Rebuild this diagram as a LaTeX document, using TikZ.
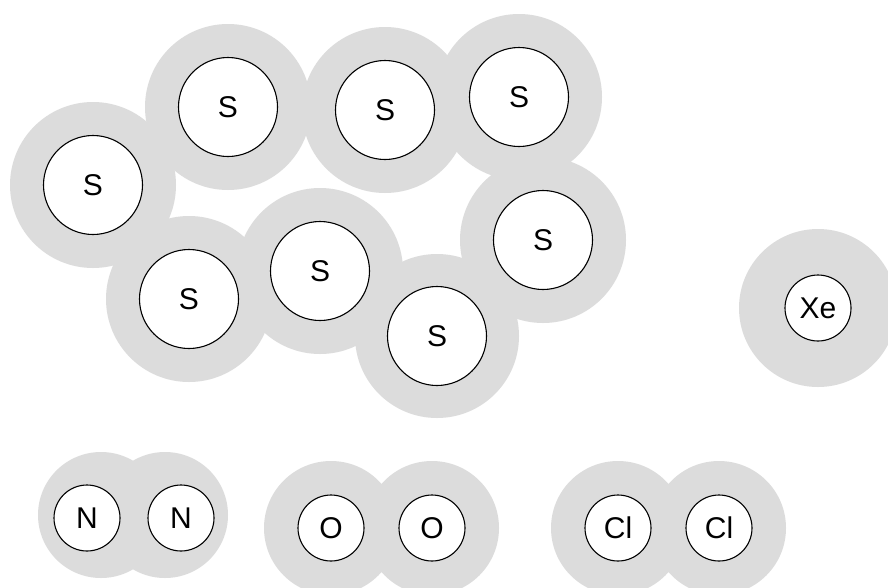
\documentclass[tikz,border=0pt]{standalone}
\usepackage{fontspec}
\setmainfont{Liberation Sans}
\usepackage{xcolor}
\definecolor{shellgray}{RGB}{220,220,220}

\begin{document}
\begin{tikzpicture}[x=1pt, y=-1pt, font=\fontsize{30}{34}\selectfont,
    shell/.style={fill=shellgray},
    atom/.style={circle, draw=black, line width=1.1pt, fill=white, inner sep=0pt},
    bigatom/.style={atom, minimum size=99pt},
    smallatom/.style={atom, minimum size=66pt}]
  % frame of the picture
  \clip (0,0) rectangle (888,587);
  \fill[white] (0,0) rectangle (888,587);
  % S8 ring, shells first
  \fill[shell] (93,185) circle[radius=83pt];
  \fill[shell] (228,107) circle[radius=83pt];
  \fill[shell] (385,110) circle[radius=83pt];
  \fill[shell] (519,97) circle[radius=83pt];
  \fill[shell] (543,240) circle[radius=83pt];
  \fill[shell] (320,271) circle[radius=83pt];
  \fill[shell] (189,299) circle[radius=83pt];
  \fill[shell] (437,336) circle[radius=82pt];
  % Xe and the diatomics
  \fill[shell] (818,308) circle[radius=79pt];
  \fill[shell] (101,515) circle[radius=63pt];
  \fill[shell] (165,515) circle[radius=63pt];
  \fill[shell] (331,528) circle[radius=67pt];
  \fill[shell] (432,528) circle[radius=67pt];
  \fill[shell] (618,528) circle[radius=67pt];
  \fill[shell] (719,528) circle[radius=67pt];
  % atom cores
  \node[bigatom] (s1) at (93,185) {S};
  \node[bigatom] (s2) at (228,107) {S};
  \node[bigatom] (s3) at (385,110) {S};
  \node[bigatom] (s4) at (519,97) {S};
  \node[bigatom] (s5) at (543,240) {S};
  \node[bigatom] (s6) at (320,271) {S};
  \node[bigatom] (s7) at (189,299) {S};
  \node[bigatom] (s8) at (437,336) {S};
  \node[smallatom] (xe) at (818,308) {Xe};
  \node[smallatom] (n1) at (87,518) {N};
  \node[smallatom] (n2) at (181,518) {N};
  \node[smallatom] (o1) at (331,528) {O};
  \node[smallatom] (o2) at (432,528) {O};
  \node[smallatom] (cl1) at (618,528) {Cl};
  \node[smallatom] (cl2) at (719,528) {Cl};
\end{tikzpicture}
\end{document}
